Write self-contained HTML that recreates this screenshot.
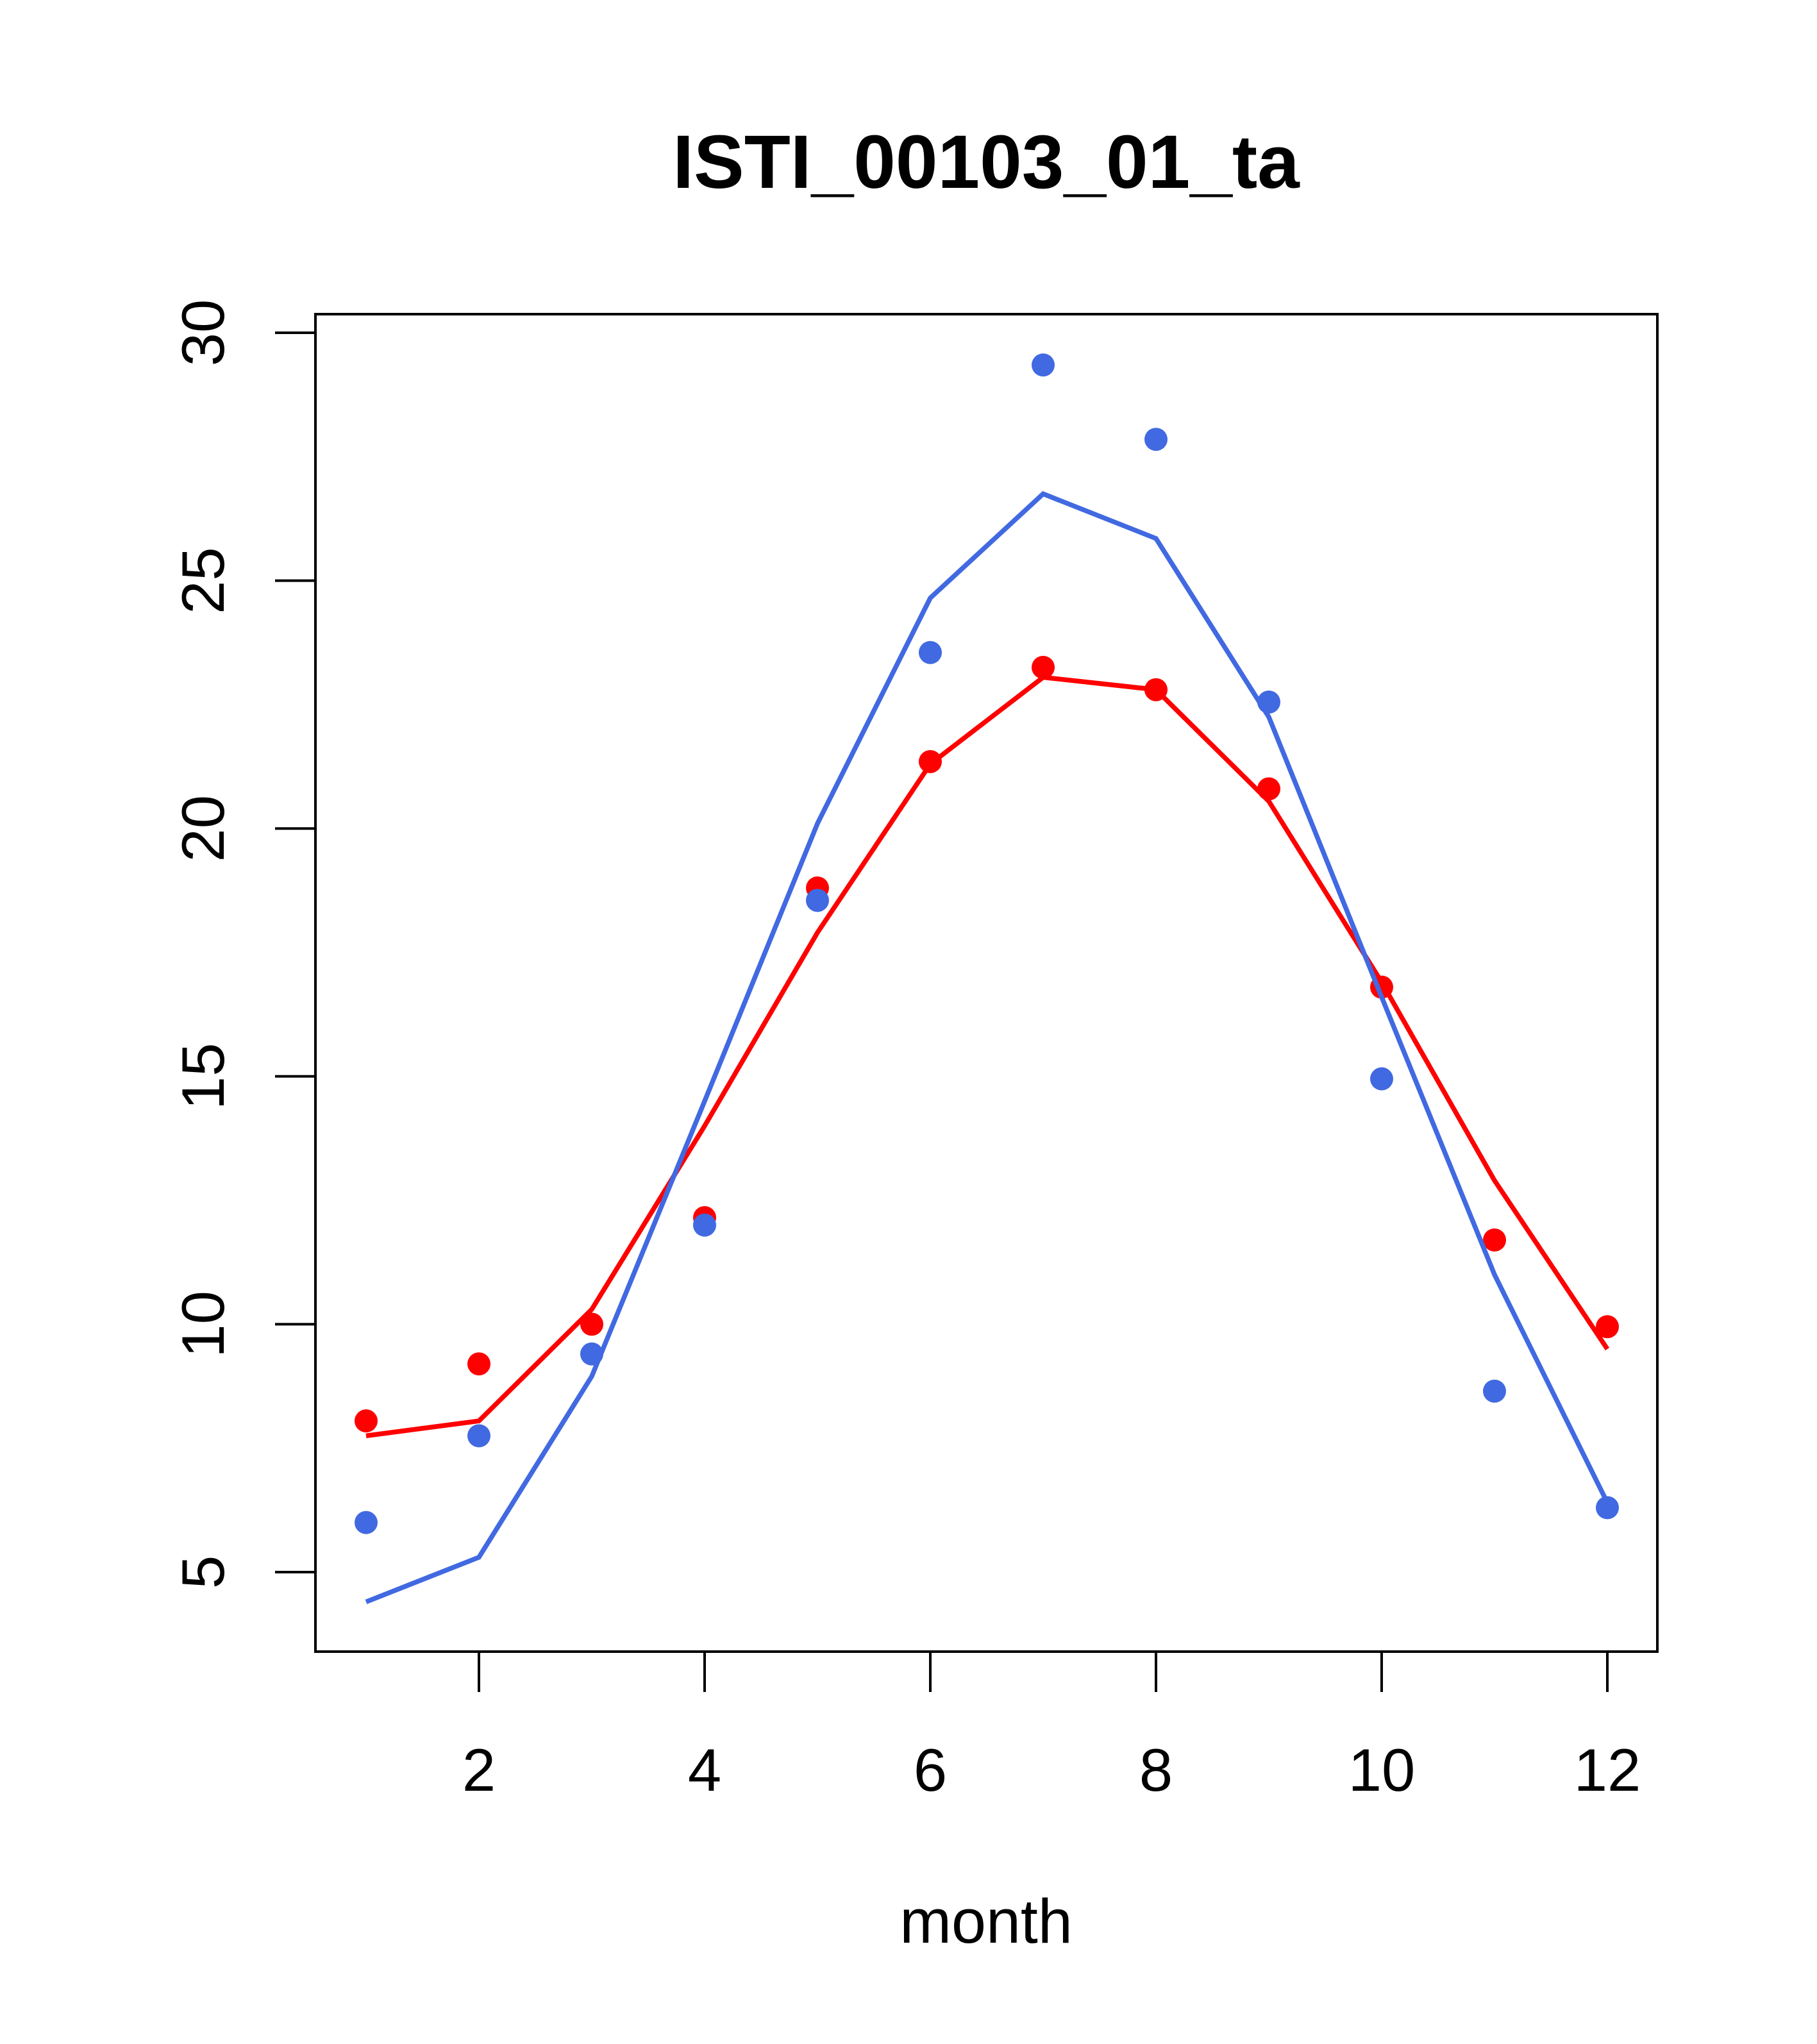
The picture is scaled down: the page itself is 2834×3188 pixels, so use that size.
<!DOCTYPE html>
<html><head><meta charset="utf-8"><style>
html,body{margin:0;padding:0;background:#fff;}
svg{display:block;font-family:"Liberation Sans",Arial,sans-serif;}
</style></head><body>
<svg id="chart" width="2834" height="3188" viewBox="0 0 2834 3188">
<rect width="2834" height="3188" fill="#fff"/>
<text x="1538" y="293" text-anchor="middle" font-size="118" font-weight="bold">ISTI_00103_01_ta</text>
<rect x="492" y="490" width="2093" height="2086" fill="none" stroke="#000" stroke-width="4"/>
<g id="xaxis"></g>
<g id="yaxis"></g>
<text x="1538" y="3030" text-anchor="middle" font-size="97">month</text>
<g id="series"></g>
</svg>
<script>
const months=[1,2,3,4,5,6,7,8,9,10,11,12];
const redPoints=[8.05,9.2,10.0,12.15,18.8,21.35,23.25,22.8,20.8,16.8,11.7,9.95];
const redLine=[7.75,8.05,10.3,14.0,17.9,21.3,23.05,22.8,20.55,16.9,12.9,9.5];
const bluePoints=[6.0,7.75,9.4,12.0,18.55,23.55,29.35,27.85,22.55,14.95,8.65,6.3];
const blueLine=[4.4,5.3,8.95,14.5,20.1,24.65,26.75,25.85,22.25,16.6,11.0,6.4];
const xTicks=[2,4,6,8,10,12];
const yTicks=[5,10,15,20,25,30];

const NS="http://www.w3.org/2000/svg";
function xs(v){return 571+(v-1)*176;}
function ys(v){return 2452-(v-5)*77.32;}
function mk(tag,attrs,parent){const e=document.createElementNS(NS,tag);for(const k in attrs)e.setAttribute(k,attrs[k]);parent.appendChild(e);return e;}
const xa=document.getElementById('xaxis'),ya=document.getElementById('yaxis'),se=document.getElementById('series');
mk('line',{x1:xs(xTicks[0]),x2:xs(xTicks[xTicks.length-1]),y1:2576,y2:2576,stroke:'#000','stroke-width':4},xa);
xTicks.forEach(t=>{
  const l=mk('line',{x1:xs(t),x2:xs(t),y1:2576,y2:2639,stroke:'#000','stroke-width':4},xa);
  
  
  const tx=mk('text',{x:xs(t),y:2793,'text-anchor':'middle','font-size':94},xa);
  tx.textContent=t;
  
  
});
mk('line',{x1:492,x2:492,y1:ys(yTicks[0]),y2:ys(yTicks[yTicks.length-1]),stroke:'#000','stroke-width':4},ya);
yTicks.forEach(t=>{
  const l=mk('line',{x1:429,x2:492,y1:ys(t),y2:ys(t),stroke:'#000','stroke-width':4},ya);
  
  
  const tx=mk('text',{x:0,y:0,'text-anchor':'middle','font-size':94,transform:'translate(349,'+ys(t)+') rotate(-90)'},ya);
  tx.textContent=t;
  
  
});
function line(vals,color,name){
  const p=mk('polyline',{points:vals.map((v,i)=>xs(months[i])+','+ys(v)).join(' '),fill:'none',stroke:color,'stroke-width':7.5},se);
  
  
}
function pts(vals,color,name){
  vals.forEach((v,i)=>{
    const c=mk('circle',{cx:xs(months[i]),cy:ys(v),r:18,fill:color},se);
    
    
  });
}
pts(redPoints,'#ff0000','red-point');
line(redLine,'#ff0000','red-line');
pts(bluePoints,'#4169e1','blue-point');
line(blueLine,'#4169e1','blue-line');
</script>
</body></html>
